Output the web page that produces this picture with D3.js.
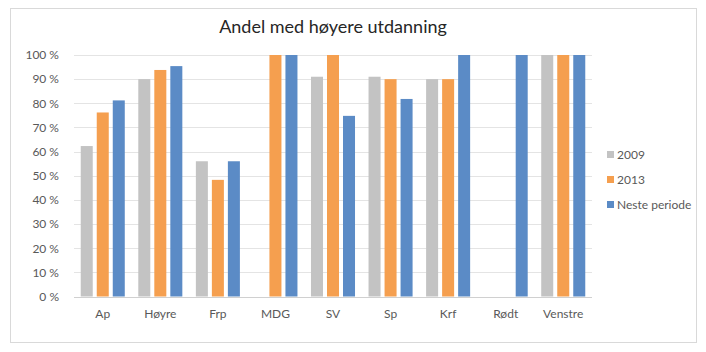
<!DOCTYPE html>
<html>
<head>
<meta charset="utf-8">
<script src="https://cdn.jsdelivr.net/npm/d3@7"></script>
<style>
  body { margin: 0; background: #fff; }
  text { font-family: Lato, "Open Sans", sans-serif; }
</style>
</head>
<body>
<div id="chart"></div>
<script>
const categories = ["Ap", "Høyre", "Frp", "MDG", "SV", "Sp", "Krf", "Rødt", "Venstre"]
const series = ["2009", "2013", "Neste periode"]
const values2009 = [62.3, 90, 56, 0, 91, 91, 90, 0, 100]
const values2013 = [76.2, 93.8, 48.3, 100, 100, 90, 90, 0, 100]
const valuesNeste = [81.2, 95.4, 56, 100, 74.8, 81.8, 100, 100, 100]
const yTicks = [0, 10, 20, 30, 40, 50, 60, 70, 80, 90, 100]
const colors = ["#c3c3c3", "#f59f4f", "#5b8bc6"]

const width = 706, height = 352
const plot = { left: 74, right: 592, top: 55, bottom: 296.5 }

const svg = d3.select("#chart").append("svg")
  .attr("width", width)
  .attr("height", height)

// frame
svg.append("rect")
  .attr("x", 10.5).attr("y", 8.5)
  .attr("width", 686).attr("height", 334)
  .attr("fill", "#fff")
  .attr("stroke", "#d9d9d9")

// title
svg.append("text")
  .attr("x", 333).attr("y", 33)
  .attr("text-anchor", "middle")
  .attr("font-size", 18)
  .attr("fill", "#262626")
  .text("Andel med høyere utdanning")

const x = d3.scaleBand()
  .domain(categories)
  .range([plot.left, plot.right])
  .paddingInner(0.235)
  .paddingOuter(0.117)

const xInner = d3.scaleBand()
  .domain(series)
  .range([0, x.bandwidth()])
  .paddingInner(0.25)

const y = d3.scaleLinear()
  .domain([0, 100])
  .range([plot.bottom, plot.top])

// grid
svg.append("g")
  .selectAll("line")
  .data(yTicks)
  .join("line")
  .attr("x1", plot.left).attr("x2", plot.right)
  .attr("y1", d => Math.round(y(d)) + 0.5)
  .attr("y2", d => Math.round(y(d)) + 0.5)
  .attr("stroke", d => d === 0 ? "#d0d0d0" : "#e4e4e4")

// y axis labels
const yAxis = svg.append("g")
  .attr("transform", `translate(${plot.left - 12},0)`)
  .call(d3.axisLeft(y).tickValues(yTicks).tickSize(0).tickFormat(d => d + " %"))
yAxis.select(".domain").remove()
yAxis.selectAll("text")
  .attr("font-size", 12)
  .attr("fill", "#595959")
  .attr("font-family", "Lato, 'Open Sans', sans-serif")

// x axis labels
const xAxis = svg.append("g")
  .attr("transform", `translate(0,${plot.bottom + 10})`)
  .call(d3.axisBottom(d3.scaleBand().domain(categories).range([plot.left, plot.right])).tickSize(0))
xAxis.select(".domain").remove()
xAxis.selectAll("text")
  .attr("font-size", 12)
  .attr("fill", "#595959")
  .attr("font-family", "Lato, 'Open Sans', sans-serif")

// bars
const allValues = [values2009, values2013, valuesNeste]
const rows = categories.map((c, i) => ({ cat: c, vals: series.map((s, j) => ({ s, j, v: allValues[j][i] })) }))

svg.append("g")
  .selectAll("g")
  .data(rows)
  .join("g")
  .attr("transform", d => `translate(${x(d.cat)},0)`)
  .selectAll("rect")
  .data(d => d.vals.filter(e => e.v > 0))
  .join("rect")
  .attr("x", d => xInner(d.s))
  .attr("y", d => y(d.v))
  .attr("width", xInner.bandwidth())
  .attr("height", d => y(0) - y(d.v))
  .attr("fill", d => colors[d.j])

// legend
const legend = svg.append("g")
  .attr("transform", "translate(607,155)")
const item = legend.selectAll("g")
  .data(series)
  .join("g")
  .attr("transform", (d, i) => `translate(0,${i * 25})`)
item.append("rect")
  .attr("x", 0).attr("y", -4)
  .attr("width", 7).attr("height", 7)
  .attr("fill", (d, i) => colors[i])
item.append("text")
  .attr("x", 10).attr("y", 0)
  .attr("dy", "0.35em")
  .attr("font-size", 12)
  .attr("fill", "#595959")
  .text(d => d)
</script>
</body>
</html>
